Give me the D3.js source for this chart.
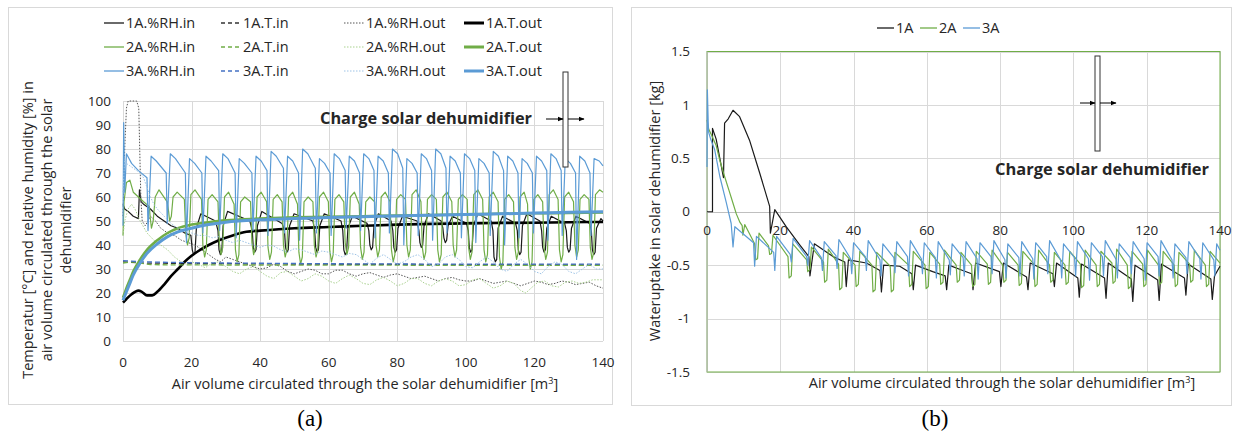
<!DOCTYPE html>
<head>
  <meta charset="utf-8">
  <script src="https://d3js.org/d3.v7.min.js"></script>
  <style>
    body { margin:0; background:#fff; }
    text { font-family: "Open Sans", Lato, sans-serif; fill:#262626; }
  </style>
</head>
<body>
<script>
// ---------- data (a) ----------
var xTicksL = [0, 20, 40, 60, 80, 100, 120, 140];
var yTicksL = [0, 10, 20, 30, 40, 50, 60, 70, 80, 90, 100];

var rhIn1A = [[0,57],[0.5,55],[1.5,54],[3,52],[4.5,51],[4.8,63],[5.3,58],[6,57],[8,55],[10,52],[12,50],[14,48],[16,47],[18,45],[19.8,44],
  [20.2,38],[20.6,36],[21,37],[21.4,47],[22.7,53],[27,50],
  [27.7,46],[28,38],[28.4,36],[28.8,37],[29.2,48],[30.5,54],[37,50],
  [37.7,46],[38,39],[38.4,37],[38.8,38],[39.2,48],[40.5,54],[46.4,49],
  [47.1,46],[47.4,39],[47.8,37],[48.2,38],[48.6,48],[49.9,53],[55.4,50],
  [55.9,46],[56.2,39],[56.6,37],[57,38],[57.4,48],[58.7,53],[63.6,50],
  [64.1,46],[64.4,38],[64.8,36],[65.2,37],[65.6,47],[66.9,52],[71.2,49],
  [71.7,46],[72,40],[72.4,38],[72.8,39],[73.2,48],[74.5,53],[78.2,50],
  [78.7,46],[79,39],[79.4,37],[79.8,38],[80.2,47],[81.5,52],[85.8,50],
  [86.3,46],[86.6,41],[87,39],[87.4,40],[87.8,48],[89.1,53],[92.8,50],
  [93.3,47],[93.6,43],[94,41],[94.4,42],[94.8,48],[96.1,52],[100.2,49],
  [100.7,46],[101,39],[101.4,37],[101.8,38],[102.2,48],[103.5,53],[107.4,50],
  [107.9,46],[108.2,35],[108.6,33],[109,34],[109.4,47],[110.7,52],[114.5,49],
  [115,46],[115.3,38],[115.7,36],[116.1,37],[116.5,48],[117.8,53],[121.6,50],
  [122.1,46],[122.4,39],[122.8,37],[123.2,38],[123.6,47],[124.9,52],[128.8,49],
  [129.3,46],[129.6,39],[130,37],[130.4,38],[130.8,47],[132.1,52],[136.1,49],
  [136.6,46],[136.9,38],[137.3,36],[137.7,37],[138.1,47],[139.4,51],[140,50]];

var tIn1A = [[0,33],[5,32.5],[20,32.3],[60,32],[100,31.8],[140,31.7]];

var rhOut1A = [[0,52],[0.5,80],[1,97],[1.5,100],[4,100],[4.6,97],[5.2,60],[5.6,50],[6.5,48],[8,52],[9.5,50],[11,47],[13,45],[15,44],[17,42],[19,41],[21,40],[23,38],[25,36],[27,34],[28.5,33],[30,35],[32,34],[34,33],[36,32],[38,31],[40,30],[42,30.5],[44,32],[46,31],[48,29],[50,28],[52,29],[54,30],[56,29.5],[58,28],[60,28],[62,29.5],[64,29.5],[66,28],[68,27],[70,28],[72,28.5],[74,27.5],[76,26.5],[78,27.5],[80,28],[82,27],[84,26],[86,26.5],[88,27],[90,26],[92,25],[94,26],[96,26.5],[98,25.5],[100,25],[102,25],[104,26],[106,25],[108,24],[110,24.5],[112,25],[114,24],[116,23],[118,24],[120,25],[122,24.5],[124,23.5],[126,24],[128,25],[130,24.5],[132,23.5],[134,24],[136,24.5],[138,23],[140,22]];

var tOut1A = [[0,16],[1,17.5],[2.5,19.5],[4.5,21],[5.5,20.5],[7,19],[8.5,19],[10,20.5],[12,23.5],[14,27],[16,30],[18,33],[20,35.5],[22,37.5],[25,40],[28,42],[32,44],[36,45.5],[40,46],[50,47],[60,47.5],[70,48],[80,48.5],[90,48.8],[100,49],[110,49.2],[120,49.3],[130,49.5],[140,49.6]];

var rhIn2A = [[0,44],[0.3,58],[1,66],[2,67],[3,62],[4.5,60],[6,58],[7.7,56],
  [7.9,52],[8.3,47],[8.8,50],[9.4,60],[10.5,63],[12.9,58],
  [13.3,54],[13.6,50],[14.1,52],[14.6,60],[15.8,62],[17.9,59],
  [18.3,45],[18.8,40],[19.3,43],[19.8,61],[21,63],[22.9,59],
  [23.3,40],[23.8,35],[24.3,38],[24.8,59],[26,61],[27.7,58],
  [28.1,41],[28.6,36],[29.1,39],[29.6,60],[30.8,62],[32.4,57],
  [32.8,38],[33.3,33],[33.8,36],[34.3,58],[35.5,60],[37.2,58],
  [37.6,41],[38.1,36],[38.6,39],[39.1,60],[40.3,62],[41.9,58],
  [42.3,39],[42.8,34],[43.3,37],[43.8,59],[45,61],[46.4,58],
  [46.8,40],[47.3,35],[47.8,38],[48.3,60],[49.5,62],[50.9,57],
  [51.3,37],[51.8,32],[52.3,35],[52.8,58],[54,60],[55.4,58],
  [55.8,40],[56.3,35],[56.8,38],[57.3,60],[58.5,62],[59.9,58],
  [60.3,38],[60.8,33],[61.3,36],[61.8,59],[63,61],[64.4,58],
  [64.8,41],[65.3,36],[65.8,39],[66.3,60],[67.5,62],[68.9,57],
  [69.3,39],[69.8,34],[70.3,37],[70.8,58],[72,60],[73.4,58],
  [73.8,40],[74.3,35],[74.8,38],[75.3,60],[76.5,62],[77.9,58],
  [78.3,38],[78.8,33],[79.3,36],[79.8,59],[81,61],[82.4,59],
  [82.8,40],[83.3,35],[83.8,38],[84.3,61],[85.5,63],[86.9,58],
  [87.3,39],[87.8,34],[88.3,37],[88.8,59],[90,61],[91.4,59],
  [91.8,38],[92.3,33],[92.8,36],[93.3,60],[94.5,62],[95.9,58],
  [96.3,40],[96.8,35],[97.3,38],[97.8,59],[99,61],[100.4,59],
  [100.8,39],[101.3,34],[101.8,37],[102.3,61],[103.5,63],[104.9,59],
  [105.3,38],[105.8,33],[106.3,36],[106.8,60],[108,62],[109.4,58],
  [109.8,35],[110.3,30],[110.8,33],[111.3,59],[112.5,61],[113.9,58],
  [114.3,39],[114.8,34],[115.3,37],[115.8,60],[117,62],[118,57],
  [118.3,35],[118.8,30],[119.3,33],[119.8,59],[121,61],[122.4,58],
  [122.8,39],[123.3,34],[123.8,37],[124.3,61],[125.5,63],[126.9,59],
  [127.3,38],[127.8,33],[128.3,36],[128.8,60],[130,62],[131.4,58],
  [131.8,40],[132.3,35],[132.8,38],[133.3,59],[134.5,61],[135.9,59],
  [136.3,39],[136.8,34],[137.3,37],[137.8,61],[139,63],[140,62]];

var tIn2A = [[0,32.5],[3,33],[8,31.8],[20,31.7],[60,31.6],[140,31.5]];

var rhOut2A = [[0,44],[0.5,50],[1.5,55],[2.5,57],[3.5,55],[5,50],[7,45],[9,42],[11,40],[13,38],[15,35],[17,33],[18.5,32],[20,33],[22,32],[24,30.5],[26,32.5],[28,33],[30,31],[32,29],[34,28],[36,30],[38,31],[40,29],[42,27],[44,26],[46,28.5],[48,29],[50,27],[52,25],[54,26],[56,28],[58,27],[60,25],[62,24],[64,26],[66,27.5],[68,26],[70,24],[72,23.5],[74,25.5],[76,26.5],[78,25],[80,23],[82,24],[84,26],[86,26],[88,24],[90,23],[92,25],[94,26],[96,25],[98,23],[100,23.5],[102,25.5],[104,26],[106,24],[108,22],[110,23],[112,25],[114,24],[116,21],[117.5,20],[119,22],[121,24.5],[123,25],[125,23],[127,22.5],[129,24.5],[131,25],[133,24],[135,24.5],[137,25.5],[140,25.5]];

var tOut2A = [[0,18],[1,22],[2,25.5],[3,29],[5,34],[7,38],[10,42],[13,45],[16,47],[20,48.5],[25,49.5],[30,50.3],[40,51],[50,51.5],[60,51.8],[70,52],[80,52.3],[90,52.5],[100,52.8],[110,53],[120,53.2],[130,53.4],[140,53.6]];

var rhIn3A = [[0,48],[0.2,91],[0.5,62],[1,78],[2.5,74],[4.5,71],[7,68],
  [7.3,46],[8.2,77],[9.7,75],[12.6,70],
  [12.9,49],[13.8,78],[15.3,76],[18.2,70],
  [18.5,41],[19.4,76],[20.9,74],[23,70],
  [23.3,45],[24.2,77],[25.7,75],[27.9,71],
  [28.2,46],[29.1,78],[30.6,76],[32.7,70],
  [33,43],[33.9,76],[35.4,74],[37.6,70],
  [37.9,46],[38.8,77],[40.3,75],[42,71],
  [42.3,44],[43.2,79],[44.7,77],[46.8,72],
  [47.1,45],[48,77],[49.5,75],[51.2,70],
  [51.5,42],[52.4,80],[53.9,78],[56.1,72],
  [56.4,45],[57.3,76],[58.8,74],[60.4,70],
  [60.7,44],[61.6,78],[63.1,76],[64.8,71],
  [65.1,47],[66,77],[67.5,75],[69,70],
  [69.3,46],[70.2,78],[71.7,76],[73.2,71],
  [73.5,43],[74.4,77],[75.9,75],[77.4,70],
  [77.7,45],[78.6,80],[80.1,78],[81.6,72],
  [81.9,40],[82.8,76],[84.3,74],[85.8,70],
  [86.1,44],[87,78],[88.5,76],[90,71],
  [90.3,42],[91.2,80],[92.7,78],[94.2,72],
  [94.5,45],[95.4,77],[96.9,75],[98.4,70],
  [98.7,43],[99.6,78],[101.1,76],[102.6,71],
  [102.9,41],[103.8,76],[105.3,74],[106.8,70],
  [107.1,44],[108,79],[109.5,77],[111,71],
  [111.3,40],[112.2,77],[113.7,75],[115.2,70],
  [115.5,43],[116.4,76],[117.9,74],[119.4,70],
  [119.7,45],[120.6,77],[122.1,75],[123.6,71],
  [123.9,42],[124.8,78],[126.3,76],[127.8,71],
  [128.1,44],[129,76],[130.5,74],[132,70],
  [132.3,34],[133.2,77],[134.7,75],[136.2,70],
  [136.5,44],[137.4,76],[138.9,75],[140,73]];

var tIn3A = [[0,33.5],[5,33],[20,32.6],[60,32.2],[100,32],[140,32]];

var rhOut3A = [[0,62],[0.5,76],[1,74],[2,73],[3,72],[4,71],[5,70],[6,68],[7,64],[8,60],[9,57],[10,55],[12,52],[14,49],[16,47],[18,46],[20,45],[22,44],[24,44],[26,43],[28,43.5],[30,42],[32,41],[34,42],[36,41],[38,40],[40,39],[42,40],[44,39.5],[46,38],[48,37],[50,38.5],[52,38],[54,37],[56,36],[58,37.5],[60,37],[62,36],[64,35],[66,36.5],[68,36],[70,34],[72,32],[74,34.5],[76,36],[78,34],[80,32],[82,33],[84,35],[86,36],[88,34],[90,31],[92,32],[94,35],[96,36],[98,34],[100,31],[102,30.5],[104,33],[106,35],[108,33],[110,30],[112,29],[114,32],[116,34],[118,32],[120,29],[122,28],[124,31],[126,33],[128,32],[130,29],[132,28],[134,30],[136,32],[138,30],[140,30]];

var tOut3A = [[0,17],[1,20.5],[2,24],[3,27.5],[5,32.5],[7,36.5],[10,40.5],[13,43.5],[16,45.5],[20,47],[25,48.5],[30,49.5],[40,50.5],[50,51],[60,51.5],[70,51.8],[80,52.1],[90,52.4],[100,52.7],[110,53],[120,53.3],[130,53.6],[140,53.9]];

// ---------- data (b) ----------
var xTicksR = [0, 20, 40, 60, 80, 100, 120, 140];
var yTicksR = [-1.5, -1, -0.5, 0, 0.5, 1, 1.5];

var up1A = [[0,0],[1.5,0],[1.5,0.78],[2.5,0.68],[3.5,0.5],[4.5,0.32],[4.8,0.83],[5.8,0.87],[7.1,0.95],[8.9,0.89],[11.6,0.67],[14.4,0.36],[17.1,0.05],[17.3,-0.2],[18.5,0.02],[21.6,-0.14],[25.3,-0.31],[27.8,-0.42],[28.1,-0.6],[29.3,-0.3],[34.4,-0.42],[37.6,-0.47],[38,-0.7],[38.6,-0.45],[43.5,-0.48],[47.2,-0.55],[47.6,-0.75],[48.2,-0.5],[52.6,-0.51],[55.9,-0.58],[56.3,-0.73],[56.9,-0.5],[61.6,-0.56],[65,-0.6],[65.4,-0.73],[66,-0.5],[69.8,-0.55],[72.2,-0.58],[72.6,-0.73],[73.3,-0.48],[79.8,-0.56],[80.2,-0.7],[80.9,-0.48],[87.2,-0.61],[87.6,-0.73],[88.2,-0.48],[94.4,-0.58],[94.8,-0.7],[95.4,-0.48],[101.2,-0.62],[101.6,-0.8],[102.2,-0.49],[108.5,-0.62],[108.9,-0.81],[109.5,-0.48],[115.8,-0.63],[116.2,-0.84],[116.8,-0.5],[123,-0.64],[123.4,-0.83],[124,-0.49],[130.3,-0.62],[130.7,-0.78],[131.3,-0.49],[137.5,-0.63],[137.9,-0.82],[138.5,-0.6],[140,-0.51]];

var up2A = [[0,0.86],[0.5,0.77],[1.2,0.72],[2.5,0.62],[3.5,0.48],[4.8,0.33],[6,0.2],[7.1,0.08],[8,-0.02],[9,-0.1],[9.6,-0.13],[9.8,-0.22],[10.3,-0.12],[13,-0.3],
  [13.3,-0.45],[13.8,-0.44],[14.2,-0.2],[16.8,-0.32],
  [17.1,-0.4],[17.6,-0.39],[18,-0.22],[22.1,-0.42],
  [22.4,-0.62],[23,-0.6],[23.4,-0.3],[27.2,-0.45],
  [27.5,-0.56],[28.1,-0.54],[28.5,-0.33],[31.8,-0.47],
  [32.1,-0.66],[32.7,-0.64],[33.1,-0.35],[35.9,-0.49],
  [36.2,-0.73],[36.8,-0.71],[37.2,-0.38],[40.4,-0.5],
  [40.7,-0.7],[41.3,-0.68],[41.7,-0.37],[45,-0.5],
  [45.3,-0.75],[45.9,-0.73],[46.3,-0.38],[50,-0.51],
  [50.3,-0.75],[50.9,-0.73],[51.3,-0.38],[55,-0.5],
  [55.3,-0.7],[55.9,-0.68],[56.3,-0.37],[59.5,-0.5],
  [59.8,-0.72],[60.4,-0.7],[60.8,-0.38],[63.5,-0.49],
  [63.8,-0.68],[64.4,-0.66],[64.8,-0.36],[68,-0.5],
  [68.3,-0.66],[68.9,-0.64],[69.3,-0.38],[72.2,-0.5],
  [72.5,-0.7],[73.1,-0.68],[73.5,-0.37],[76.5,-0.49],
  [76.8,-0.68],[77.4,-0.66],[77.8,-0.36],[80.7,-0.5],
  [81,-0.66],[81.6,-0.64],[82,-0.38],[84.9,-0.5],
  [85.2,-0.69],[85.8,-0.67],[86.2,-0.37],[89.2,-0.49],
  [89.5,-0.7],[90.1,-0.68],[90.5,-0.36],[93.5,-0.5],
  [93.8,-0.66],[94.4,-0.64],[94.8,-0.38],[97.7,-0.5],
  [98,-0.68],[98.6,-0.66],[99,-0.37],[101.9,-0.49],
  [102.2,-0.71],[102.8,-0.69],[103.2,-0.36],[106.2,-0.5],
  [106.5,-0.7],[107.1,-0.68],[107.5,-0.37],[110.5,-0.48],
  [110.8,-0.67],[111.4,-0.65],[111.8,-0.35],[114.7,-0.5],
  [115,-0.72],[115.6,-0.7],[116,-0.37],[118.9,-0.49],
  [119.2,-0.7],[119.8,-0.68],[120.2,-0.36],[123.2,-0.5],
  [123.5,-0.68],[124.1,-0.66],[124.5,-0.37],[127.5,-0.5],
  [127.8,-0.7],[128.4,-0.68],[128.8,-0.38],[131.7,-0.49],
  [132,-0.66],[132.6,-0.64],[133,-0.36],[136,-0.5],
  [136.3,-0.7],[136.9,-0.68],[137.3,-0.37],[140,-0.48]];

var up3A = [[0,0.42],[0.1,1.14],[0.4,0.75],[1,0.68],[2.1,0.58],[3.5,0.33],[5.3,0.08],[6.6,-0.11],
  [7.1,-0.33],[7.6,-0.14],[12.7,-0.29],
  [13,-0.51],[13.5,-0.23],[18.2,-0.38],
  [18.5,-0.55],[19,-0.23],[22.7,-0.4],
  [23,-0.47],[23.5,-0.25],[27.2,-0.42],
  [27.5,-0.5],[28,-0.27],[31.2,-0.43],
  [31.5,-0.55],[32,-0.28],[35.2,-0.41],
  [35.5,-0.53],[36,-0.26],[39.2,-0.44],
  [39.5,-0.58],[40,-0.29],[43.2,-0.42],
  [43.5,-0.55],[44,-0.27],[47.2,-0.45],
  [47.5,-0.6],[48,-0.3],[51,-0.43],
  [51.3,-0.57],[51.8,-0.28],[54.7,-0.42],
  [55,-0.6],[55.5,-0.27],[58.5,-0.44],
  [58.8,-0.58],[59.3,-0.29],[62.3,-0.43],
  [62.6,-0.62],[63.1,-0.28],[66.1,-0.45],
  [66.4,-0.59],[66.9,-0.3],[69.9,-0.43],
  [70.2,-0.6],[70.7,-0.28],[73.7,-0.44],
  [74,-0.63],[74.5,-0.29],[77.5,-0.42],
  [77.8,-0.58],[78.3,-0.27],[81.3,-0.45],
  [81.6,-0.62],[82.1,-0.3],[85.1,-0.43],
  [85.4,-0.6],[85.9,-0.28],[88.9,-0.44],
  [89.2,-0.63],[89.7,-0.29],[92.7,-0.42],
  [93,-0.58],[93.5,-0.27],[96.5,-0.45],
  [96.8,-0.62],[97.3,-0.3],[100.3,-0.43],
  [100.6,-0.6],[101.1,-0.28],[104.1,-0.44],
  [104.4,-0.64],[104.9,-0.29],[107.9,-0.42],
  [108.2,-0.6],[108.7,-0.27],[111.7,-0.45],
  [112,-0.62],[112.5,-0.3],[115.5,-0.43],
  [115.8,-0.58],[116.3,-0.28],[119.3,-0.44],
  [119.6,-0.64],[120.1,-0.29],[123.1,-0.42],
  [123.4,-0.6],[123.9,-0.27],[126.9,-0.45],
  [127.2,-0.62],[127.7,-0.3],[130.7,-0.43],
  [131,-0.58],[131.5,-0.28],[134.5,-0.44],
  [134.8,-0.63],[135.3,-0.29],[138.3,-0.45],
  [138.6,-0.6],[139.1,-0.3],[140,-0.36]];

// ---------- colours / styles ----------
var BLACK = "#1a1a1a", GREEN = "#70ad47", BLUE = "#5b9bd5";
var GRID = "#d9d9d9";
var FS = "13.5px";   // tick labels
var FT = "14.5px";   // titles and legends

var seriesL = [
  {name:"1A.%RH.in",  data:rhIn1A,  color:BLACK,     w:1.2, dash:null},
  {name:"1A.T.in",    data:tIn1A,   color:"#333",    w:1.3, dash:"5,3"},
  {name:"1A.%RH.out", data:rhOut1A, color:"#555",    w:1,   dash:"1.5,1.5"},
  {name:"1A.T.out",   data:tOut1A,  color:"#000",    w:2.6, dash:null},
  {name:"2A.%RH.in",  data:rhIn2A,  color:GREEN,     w:1.2, dash:null},
  {name:"2A.T.in",    data:tIn2A,   color:GREEN,     w:1.3, dash:"5,3"},
  {name:"2A.%RH.out", data:rhOut2A, color:"#a9d18e", w:1,   dash:"1.5,1.5"},
  {name:"2A.T.out",   data:tOut2A,  color:GREEN,     w:2.6, dash:null},
  {name:"3A.%RH.in",  data:rhIn3A,  color:BLUE,      w:1.2, dash:null},
  {name:"3A.T.in",    data:tIn3A,   color:"#4472c4", w:1.3, dash:"5,3"},
  {name:"3A.%RH.out", data:rhOut3A, color:"#9dc3e6", w:1,   dash:"1.5,1.5"},
  {name:"3A.T.out",   data:tOut3A,  color:BLUE,      w:3,   dash:null}
];
var seriesR = [
  {name:"1A", data:up1A, color:BLACK},
  {name:"2A", data:up2A, color:GREEN},
  {name:"3A", data:up3A, color:BLUE}
];

var svg = d3.select("body").append("svg")
  .attr("width", 1239).attr("height", 441);

// panel frames
svg.append("rect").attr("x", 8.5).attr("y", 7.5).attr("width", 604).attr("height", 397)
  .attr("fill", "none").attr("stroke", GRID);
svg.append("rect").attr("x", 631.5).attr("y", 7.5).attr("width", 600).attr("height", 398)
  .attr("fill", "none").attr("stroke", GRID);

// arrow head
svg.append("defs").append("marker")
  .attr("id", "arr").attr("viewBox", "0 0 10 10").attr("refX", 9).attr("refY", 5)
  .attr("markerWidth", 6).attr("markerHeight", 6).attr("orient", "auto")
  .append("path").attr("d", "M0,1L10,5L0,9Z").attr("fill", "#000");

// ================= chart (a) =================
var xL = d3.scaleLinear().domain([0, 140]).range([123, 603]);
var yL = d3.scaleLinear().domain([0, 100]).range([341, 101]);
var gL = svg.append("g");

gL.selectAll(".hg").data(yTicksL).enter().append("line")
  .attr("x1", xL(0)).attr("x2", xL(140))
  .attr("y1", d => Math.round(yL(d)) + 0.5).attr("y2", d => Math.round(yL(d)) + 0.5)
  .attr("stroke", GRID);
gL.selectAll(".vg").data(xTicksL).enter().append("line")
  .attr("y1", yL(0)).attr("y2", yL(100))
  .attr("x1", d => Math.round(xL(d)) + 0.5).attr("x2", d => Math.round(xL(d)) + 0.5)
  .attr("stroke", GRID);

gL.selectAll(".yl").data(yTicksL).enter().append("text")
  .attr("x", 111).attr("y", d => yL(d)).attr("dy", "0.35em")
  .attr("text-anchor", "end").style("font-size", FS).text(d => d);
gL.selectAll(".xl").data(xTicksL).enter().append("text")
  .attr("x", d => xL(d)).attr("y", 362).attr("dy", "0.35em")
  .attr("text-anchor", "middle").style("font-size", FS).text(d => d);

var lineL = d3.line().x(d => xL(d[0])).y(d => yL(d[1]));
seriesL.forEach(function(s) {
  gL.append("path")
    .attr("d", s.w > 2 ? lineL.curve(d3.curveMonotoneX)(s.data) : lineL.curve(d3.curveLinear)(s.data))
    .attr("fill", "none").attr("stroke", s.color).attr("stroke-width", s.w)
    .attr("stroke-dasharray", s.dash).attr("stroke-linejoin", "round");
});

// legend (a)
var legX = [104, 221, 344, 464];
seriesL.forEach(function(s, i) {
  var row = Math.floor(i / 4), col = i % 4;
  var ly = 23 + row * 24, lx = legX[col];
  svg.append("line").attr("x1", lx).attr("x2", lx + 20).attr("y1", ly).attr("y2", ly)
    .attr("stroke", s.color).attr("stroke-width", s.w > 2 ? 3 : (s.dash === "1.5,1.5" ? 1 : 1.3))
    .attr("stroke-dasharray", s.dash === "5,3" ? "4,3" : s.dash);
  svg.append("text").attr("x", lx + 22).attr("y", ly).attr("dy", "0.35em")
    .style("font-size", FT).text(s.name);
});

// axis titles (a)
svg.append("text").attr("x", 365).attr("y", 384).attr("dy", "0.35em")
  .attr("text-anchor", "middle").style("font-size", FT)
  .html("Air volume circulated through the solar dehumidifier [m<tspan dy='-5' font-size='9px'>3</tspan><tspan dy='5'>]</tspan>");
var yTitleL = ["Temperatur [\u00b0C] and relative humidity [%] in",
               "air volume circulated through the solar",
               "dehumidifier"];
yTitleL.forEach(function(t, i) {
  svg.append("text").attr("transform", "translate(" + (28 + i * 19) + ",230) rotate(-90)")
    .attr("dy", "0.35em").attr("text-anchor", "middle").style("font-size", FT).text(t);
});

// annotation (a)
svg.append("text").attr("x", 320).attr("y", 118).attr("dy", "0.35em")
  .attr("textLength", 212).attr("lengthAdjust", "spacingAndGlyphs")
  .style("font-size", "16px").style("font-weight", "bold").text("Charge solar dehumidifier");
svg.append("rect").attr("x", 563).attr("y", 72).attr("width", 5).attr("height", 95)
  .attr("fill", "#fff").attr("stroke", "#333").attr("stroke-width", 1);
svg.append("line").attr("x1", 546).attr("x2", 563).attr("y1", 119).attr("y2", 119)
  .attr("stroke", "#000").attr("stroke-width", 1).attr("marker-end", "url(#arr)");
svg.append("line").attr("x1", 568).attr("x2", 584).attr("y1", 119).attr("y2", 119)
  .attr("stroke", "#000").attr("stroke-width", 1).attr("marker-end", "url(#arr)");

// ================= chart (b) =================
var xR = d3.scaleLinear().domain([0, 140]).range([707, 1220]);
var yR = d3.scaleLinear().domain([-1.5, 1.5]).range([372, 51.5]);
var gR = svg.append("g");

gR.selectAll(".hg").data(yTicksR).enter().append("line")
  .attr("x1", xR(0)).attr("x2", xR(140))
  .attr("y1", d => Math.round(yR(d)) + 0.5).attr("y2", d => Math.round(yR(d)) + 0.5)
  .attr("stroke", GRID);
gR.selectAll(".vg").data(xTicksR).enter().append("line")
  .attr("y1", yR(-1.5)).attr("y2", yR(1.5))
  .attr("x1", d => Math.round(xR(d)) + 0.5).attr("x2", d => Math.round(xR(d)) + 0.5)
  .attr("stroke", GRID);
gR.append("rect").attr("x", xR(0)).attr("y", yR(1.5))
  .attr("width", xR(140) - xR(0)).attr("height", yR(-1.5) - yR(1.5))
  .attr("fill", "none").attr("stroke", GREEN).attr("stroke-width", 1);
gR.append("line").attr("x1", xR(0)).attr("x2", xR(0)).attr("y1", yR(1.5)).attr("y2", yR(-1.5))
  .attr("stroke", "#bfbfbf");
gR.append("line").attr("x1", xR(0)).attr("x2", xR(140))
  .attr("y1", Math.round(yR(0)) + 0.5).attr("y2", Math.round(yR(0)) + 0.5).attr("stroke", "#bfbfbf");

gR.selectAll(".yl").data(yTicksR).enter().append("text")
  .attr("x", 690).attr("y", d => yR(d)).attr("dy", "0.35em")
  .attr("text-anchor", "end").style("font-size", FS).text(d => d);
gR.selectAll(".xl").data(xTicksR).enter().append("text")
  .attr("x", d => xR(d)).attr("y", yR(0) + 19).attr("dy", "0.35em")
  .attr("text-anchor", "middle").style("font-size", FS).text(d => d);

var lineR = d3.line().x(d => xR(d[0])).y(d => yR(d[1]));
seriesR.forEach(function(s) {
  gR.append("path").datum(s.data).attr("d", lineR)
    .attr("fill", "none").attr("stroke", s.color).attr("stroke-width", 1.2)
    .attr("stroke-linejoin", "round");
});

// legend (b)
seriesR.forEach(function(s, i) {
  var lx = 877 + i * 43;
  svg.append("line").attr("x1", lx).attr("x2", lx + 17).attr("y1", 28).attr("y2", 28)
    .attr("stroke", s.color).attr("stroke-width", 1.3);
  svg.append("text").attr("x", lx + 19).attr("y", 28).attr("dy", "0.35em")
    .style("font-size", FT).text(s.name);
});

// axis titles (b)
svg.append("text").attr("x", 1002).attr("y", 383).attr("dy", "0.35em")
  .attr("text-anchor", "middle").style("font-size", FT)
  .html("Air volume circulated through the solar dehumidifier [m<tspan dy='-5' font-size='9px'>3</tspan><tspan dy='5'>]</tspan>");
svg.append("text").attr("transform", "translate(655,211) rotate(-90)")
  .attr("dy", "0.35em").attr("text-anchor", "middle").style("font-size", FT)
  .text("Wateruptake in solar dehumidifier [kg]");

// annotation (b)
svg.append("text").attr("x", 995).attr("y", 169).attr("dy", "0.35em")
  .attr("textLength", 214).attr("lengthAdjust", "spacingAndGlyphs")
  .style("font-size", "16px").style("font-weight", "bold").text("Charge solar dehumidifier");
svg.append("rect").attr("x", 1095).attr("y", 56).attr("width", 5).attr("height", 95)
  .attr("fill", "#fff").attr("stroke", "#333").attr("stroke-width", 1);
svg.append("line").attr("x1", 1080).attr("x2", 1095).attr("y1", 103).attr("y2", 103)
  .attr("stroke", "#000").attr("stroke-width", 1).attr("marker-end", "url(#arr)");
svg.append("line").attr("x1", 1100).attr("x2", 1116).attr("y1", 103).attr("y2", 103)
  .attr("stroke", "#000").attr("stroke-width", 1).attr("marker-end", "url(#arr)");

// captions
svg.append("text").attr("x", 310).attr("y", 426).attr("text-anchor", "middle")
  .style("font-family", "'Liberation Serif', serif").style("font-size", "23px").style("fill", "#000").text("(a)");
svg.append("text").attr("x", 935).attr("y", 426).attr("text-anchor", "middle")
  .style("font-family", "'Liberation Serif', serif").style("font-size", "23px").style("fill", "#000").text("(b)");
</script>
</body>
